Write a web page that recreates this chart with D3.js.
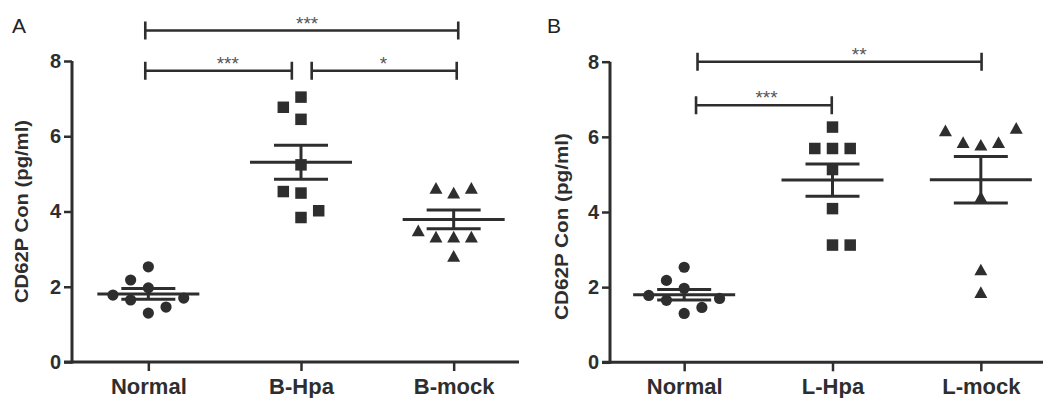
<!DOCTYPE html>
<html>
<head>
<meta charset="utf-8">
<script src="https://cdn.jsdelivr.net/npm/d3@7"></script>
<style>
  body { margin: 0; background: #fff; }
  svg { display: block; font-family: "Liberation Sans", Arial, sans-serif; }
</style>
</head>
<body>
<script>
// categories and ticks
const catsA = ["Normal", "B-Hpa", "B-mock"];
const catsB = ["Normal", "L-Hpa", "L-mock"];
const yTicks = [0, 2, 4, 6, 8];
const yLabel = "CD62P Con (pg/ml)";

// individual values + column slot of each dot
const normalVals  = [1.78, 2.18, 1.65, 2.53, 1.97, 1.30, 1.46, 1.70];
const normalSlots = [-2, -1, -1, 0, 0, 0, 1, 2];
const bHpaVals    = [7.04, 6.77, 6.45, 5.24, 4.53, 4.49, 4.02, 3.84];
const bHpaSlots   = [0, -1, 0, 0, -1, 0, 1, 0];
const bMockVals   = [4.63, 4.50, 4.63, 3.50, 3.33, 3.33, 3.33, 2.82];
const bMockSlots  = [-1, 0, 1, -2, -1, 0, 1, 0];
const lHpaVals    = [6.26, 5.69, 5.69, 5.69, 5.13, 4.09, 3.12, 3.12];
const lHpaSlots   = [0, -1, 0, 1, 0, 0, 0, 1];
const lMockVals   = [6.17, 5.86, 5.79, 5.86, 6.24, 4.40, 2.47, 1.87];
const lMockSlots  = [-2, -1, 0, 1, 2, 0, 0, 0];

// mean +- SEM per group
const meansA = [1.81, 5.31, 3.79];
const semsA  = [0.145, 0.45, 0.25];
const meansB = [1.80, 4.85, 4.86];
const semsB  = [0.14, 0.43, 0.62];

// significance brackets (ends/label in category index units, level in y units)
const bracketsA = [
  { from: -0.02, to: 2.03, level: 8.81, label: "***", at: 1.04 },
  { from: -0.02, to: 0.94, level: 7.74, label: "***", at: 0.52 },
  { from: 1.07, to: 2.02, level: 7.74, label: "*", at: 1.54 }
];
const bracketsB = [
  { from: 0.09, to: 2.005, level: 8.0, label: "**", at: 1.18 },
  { from: 0.08, to: 0.995, level: 6.84, label: "***", at: 0.555 }
];

const shapes = ["circle", "square", "triangle"];
const ink = "#2e2e2e";

const W = 1043, H = 398;
const svg = d3.select("body").append("svg")
  .attr("width", W)
  .attr("height", H);

// triangle centred on its bounding box
const triSym = {
  draw(ctx, size) {
    const w = Math.sqrt(size), h = w * 0.9;
    ctx.moveTo(0, -h / 2);
    ctx.lineTo(w / 2, h / 2);
    ctx.lineTo(-w / 2, h / 2);
    ctx.closePath();
  }
};
const symFor = {
  circle: d3.symbol(d3.symbolCircle, Math.PI * 5.6 * 5.6),
  square: d3.symbol(d3.symbolSquare, 11.5 * 11.5),
  triangle: d3.symbol(triSym, 13 * 13)
};

function drawPanel(p) {
  const g = svg.append("g");

  const x = d3.scalePoint().domain(p.cats).range(p.xRange).padding(0.5);
  const y = d3.scaleLinear().domain([0, 8]).range(p.yRange);
  const idx = d3.scaleLinear().domain([0, 2]).range([x(p.cats[0]), x(p.cats[2])]);
  const slotW = 17.7;

  // y axis
  const ya = g.append("g")
    .attr("transform", "translate(" + p.xRange[0] + ",0)")
    .call(d3.axisLeft(y).tickValues(yTicks).tickSize(8).tickSizeOuter(0).tickPadding(3));
  ya.select(".domain").attr("stroke", ink).attr("stroke-width", 3)
    .attr("d", "M0," + (y(0) + 1.5) + "V" + y(8));
  ya.selectAll(".tick line").attr("stroke", ink).attr("stroke-width", 2.5);
  ya.selectAll(".tick text")
    .attr("fill", ink)
    .style("font-size", "20px")
    .style("font-weight", "bold")
    .style("font-family", "Liberation Sans, Arial, sans-serif");

  // x axis
  const xa = g.append("g")
    .attr("transform", "translate(0," + y(0) + ")")
    .call(d3.axisBottom(x).tickSize(9).tickSizeOuter(0).tickPadding(7));
  xa.select(".domain").attr("stroke", ink).attr("stroke-width", 3)
    .attr("d", "M" + (p.xRange[0] - 8) + ",0H" + p.xEnd);
  xa.selectAll(".tick line").attr("stroke", ink).attr("stroke-width", 2.5);
  xa.selectAll(".tick text")
    .attr("fill", ink)
    .style("font-size", "22px")
    .style("font-weight", "bold")
    .style("font-family", "Liberation Sans, Arial, sans-serif");

  // y title
  g.append("text")
    .attr("transform", "translate(" + p.titleX + "," + p.titleY + ") rotate(-90)")
    .attr("text-anchor", "middle")
    .attr("fill", ink)
    .attr("textLength", p.titleLen)
    .attr("lengthAdjust", "spacingAndGlyphs")
    .style("font-size", "19px")
    .style("font-weight", "bold")
    .text(yLabel);

  // panel letter
  g.append("text")
    .attr("x", p.letterX).attr("y", 33)
    .attr("fill", "#222")
    .style("font-size", "21px")
    .text(p.letter);

  // dots
  p.groups.forEach(function(grp, i) {
    const cx = x(p.cats[i]);
    g.append("g").selectAll("path")
      .data(d3.zip(grp.vals, grp.slots))
      .join("path")
      .attr("d", symFor[shapes[i]])
      .attr("transform", d => "translate(" + (cx + d[1] * slotW) + "," + y(d[0]) + ")")
      .attr("fill", ink);
  });

  // mean and SEM
  const ms = g.append("g").attr("stroke", ink).attr("stroke-width", 3).attr("fill", "none");
  p.cats.forEach(function(c, i) {
    const cx = x(c), m = p.means[i], s = p.sems[i];
    ms.append("line").attr("x1", cx - 51).attr("x2", cx + 51).attr("y1", y(m)).attr("y2", y(m));
    ms.append("line").attr("x1", cx - 27).attr("x2", cx + 27).attr("y1", y(m + s)).attr("y2", y(m + s));
    ms.append("line").attr("x1", cx - 27).attr("x2", cx + 27).attr("y1", y(m - s)).attr("y2", y(m - s));
    ms.append("line").attr("x1", cx).attr("x2", cx).attr("y1", y(m + s)).attr("y2", y(m - s));
  });

  // brackets
  const br = g.append("g");
  p.brackets.forEach(function(b) {
    const yy = y(b.level), x0 = idx(b.from), x1 = idx(b.to);
    br.append("path")
      .attr("d", "M" + x0 + "," + (yy - 9) + "V" + (yy + 9) + "M" + x0 + "," + yy + "H" + x1 +
                 "M" + x1 + "," + (yy - 9) + "V" + (yy + 9))
      .attr("stroke", ink).attr("stroke-width", 2.6).attr("fill", "none");
    br.append("text")
      .attr("x", idx(b.at)).attr("y", yy - 1)
      .attr("text-anchor", "middle")
      .attr("fill", "#555")
      .style("font-size", "19px")
      .text(b.label);
  });
}

drawPanel({
  letter: "A", letterX: 12,
  cats: catsA, xRange: [72, 530], xEnd: 519, yRange: [362, 61],
  titleX: 28, titleY: 211.5, titleLen: 183,
  means: meansA, sems: semsA, brackets: bracketsA,
  groups: [
    { vals: normalVals, slots: normalSlots },
    { vals: bHpaVals, slots: bHpaSlots },
    { vals: bMockVals, slots: bMockSlots }
  ]
});

drawPanel({
  letter: "B", letterX: 547,
  cats: catsB, xRange: [610, 1055], xEnd: 1043, yRange: [362.3, 61.7],
  titleX: 568, titleY: 226.5, titleLen: 187,
  means: meansB, sems: semsB, brackets: bracketsB,
  groups: [
    { vals: normalVals, slots: normalSlots },
    { vals: lHpaVals, slots: lHpaSlots },
    { vals: lMockVals, slots: lMockSlots }
  ]
});
</script>
</body>
</html>
